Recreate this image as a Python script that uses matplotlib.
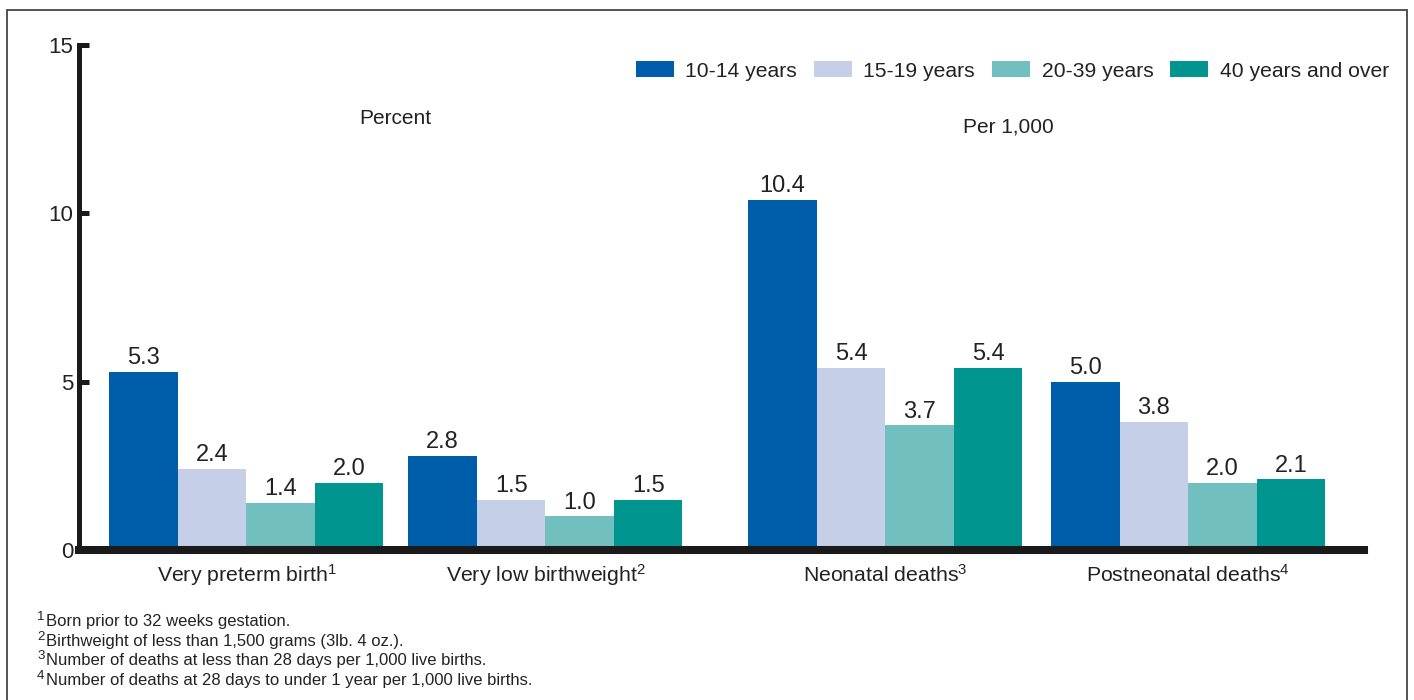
import numpy as np
import matplotlib
matplotlib.use("Agg")
import matplotlib.pyplot as plt
from matplotlib.patches import Rectangle

plt.rcParams['font.family'] = ['Liberation Sans', 'DejaVu Sans']
plt.rcParams['mathtext.fontset'] = 'custom'
plt.rcParams['mathtext.rm'] = 'Liberation Sans'
plt.rcParams['mathtext.it'] = 'Liberation Sans'

categories = ["Very preterm birth", "Very low birthweight", "Neonatal deaths", "Postneonatal deaths"]
category_notes = ["1", "2", "3", "4"]
age_groups = ["10-14 years", "15-19 years", "20-39 years", "40 years and over"]
values = {
    "10-14 years": [5.3, 2.8, 10.4, 5.0],
    "15-19 years": [2.4, 1.5, 5.4, 3.8],
    "20-39 years": [1.4, 1.0, 3.7, 2.0],
    "40 years and over": [2.0, 1.5, 5.4, 2.1],
}
footnotes = [
    ("1", "Born prior to 32 weeks gestation."),
    ("2", "Birthweight of less than 1,500 grams (3lb. 4 oz.)."),
    ("3", "Number of deaths at less than 28 days per 1,000 live births."),
    ("4", "Number of deaths at 28 days to under 1 year per 1,000 live births."),
]
colors = ["#005DAA", "#C5CFE8", "#72BFBF", "#00968F"]

# group centres in bar-width units (left group pair sits closer together)
centers = np.array([2.445, 6.81, 11.77, 16.19])
width = 1.0

fig = plt.figure(figsize=(14.14, 7.0), dpi=100)
ax = fig.add_axes([79 / 1414, 1 - 550 / 700, 1285 / 1414, 505 / 700])

for i, g in enumerate(age_groups):
    xs = centers + (i - 1.5) * width
    ax.bar(xs, values[g], width, color=colors[i], label=g, zorder=2)
    for x, v in zip(xs, values[g]):
        ax.annotate(f"{v:.1f}", (x, v), xytext=(0, 2), textcoords="offset points",
                    ha="center", va="bottom", fontsize=17, color="#222222")

ax.set_xlim(0, 1285 / 68.5)
ax.set_ylim(0, 15)
ax.set_yticks([0, 5, 10, 15])
ax.tick_params(axis="y", direction="in", length=7, width=3.6, labelsize=16,
               pad=4, colors="#1a1a1a", labelcolor="#222222")
ax.set_xticks([])
for s in ["top", "right"]:
    ax.spines[s].set_visible(False)
ax.spines["left"].set_linewidth(3.6)
ax.spines["left"].set_color("#1a1a1a")
ax.spines["bottom"].set_linewidth(5.8)
ax.spines["bottom"].set_color("#1a1a1a")
ax.spines["bottom"].set_zorder(3)

for c, name, note in zip(centers, categories, category_notes):
    ax.text(c, -0.75, name + r"$^{\mathregular{\,\!" + note + "}}$", ha="center", va="center",
            fontsize=15.3, color="#222222")

ax.text(395 / 1414, 1 - 119 / 700, "Percent", transform=fig.transFigure,
        ha="center", va="center", fontsize=15, color="#222222")
ax.text(1008 / 1414, 1 - 127 / 700, "Per 1,000", transform=fig.transFigure,
        ha="center", va="center", fontsize=15, color="#222222")

fig.legend(loc="center right", bbox_to_anchor=(1389 / 1414, 1 - 71 / 700), ncol=4,
           frameon=False, fontsize=15.2, handlelength=1.8, handleheight=0.75,
           columnspacing=0.8, handletextpad=0.55, borderpad=0, borderaxespad=0,
           labelcolor="#222222")

# footnotes: small raised number, then the text on its baseline
for k, (n, txt) in enumerate(footnotes):
    base = 1 - (626 + 19.7 * k) / 700
    fig.text(37 / 1414, base + 6 / 700, n, ha="left", va="baseline",
             fontsize=9.5, color="#222222")
    fig.text(46 / 1414, base, txt, ha="left", va="baseline",
             fontsize=12, color="#222222")

fig.patches.append(Rectangle((7 / 1414, -0.1), 1400 / 1414, 1.1 - 10 / 700,
                             transform=fig.transFigure, fill=False,
                             edgecolor="#444444", linewidth=1.3))

fig.savefig("out.png", dpi=100)
